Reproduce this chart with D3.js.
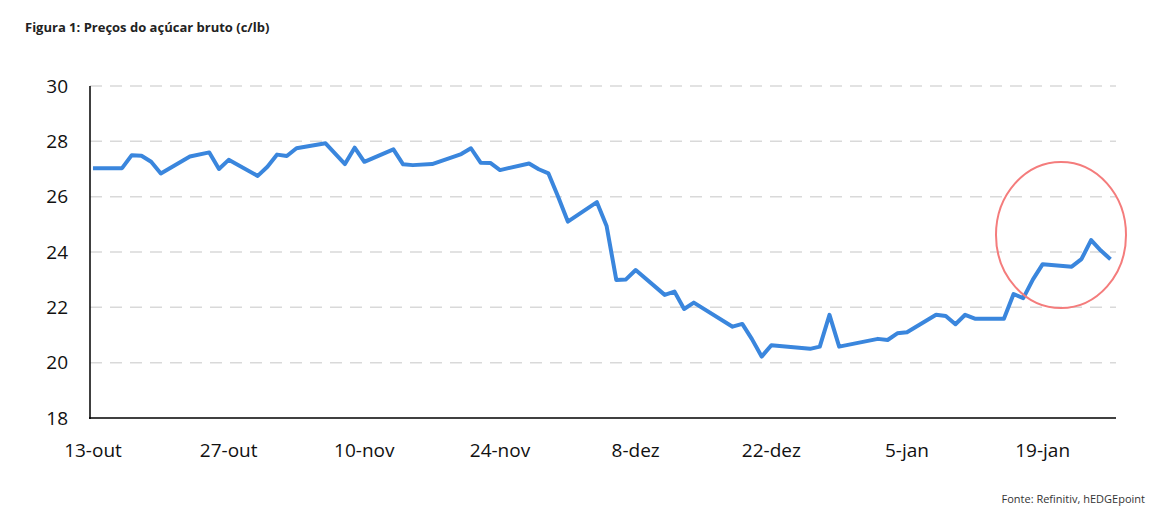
<!DOCTYPE html>
<html><head><meta charset="utf-8">
<script src="https://cdn.jsdelivr.net/npm/d3@7"></script>
<style>body{margin:0;background:#fff;font-family:"Open Sans",sans-serif;}</style>
</head><body>
<script>
// days after 13-out, and raw sugar price (c/lb)
const dayOffsets = [0,3,4,5,6,7,10,12,13,14,17,18,19,20,21,24,26,27,28,31,32,33,35,38,39,40,41,42,45,46,47,48,49,52,53,54,55,56,59,60,61,62,66,67,68,69,70,74,75,76,77,81,82,83,84,87,88,89,90,91,94,95,96,97,98,101,102,103,104,105];
const prices = [27.03,27.03,27.5,27.48,27.26,26.84,27.45,27.6,27.0,27.33,26.75,27.08,27.52,27.47,27.75,27.93,27.18,27.77,27.26,27.71,27.17,27.14,27.18,27.54,27.75,27.23,27.22,26.96,27.2,26.99,26.84,26.0,25.1,25.8,24.94,22.99,23.01,23.35,22.45,22.57,21.94,22.17,21.3,21.4,20.85,20.22,20.63,20.5,20.58,21.73,20.58,20.86,20.82,21.06,21.1,21.73,21.69,21.39,21.73,21.59,21.59,22.48,22.33,23.01,23.56,23.47,23.74,24.43,24.05,23.74];
const tickDays = [0,14,28,42,56,70,84,98];
const tickLabels = ["13-out","27-out","10-nov","24-nov","8-dez","22-dez","5-jan","19-jan"];
const yTicks = [18,20,22,24,26,28,30];

const W = 1166, H = 518;
const svg = d3.select("body").append("svg").attr("width", W).attr("height", H);

const x = d3.scaleLinear().domain([0, 105]).range([93, 1110.5]);
const y = d3.scaleLinear().domain([18, 30]).range([418, 86]);

svg.append("text").attr("x", 25).attr("y", 32).attr("font-size", 13).attr("font-weight", 700)
  .attr("fill", "#222").text("Figura 1: Preços do açúcar bruto (c/lb)");

// gridlines
svg.selectAll(".grid").data(yTicks.slice(1)).join("line")
  .attr("x1", 90).attr("x2", 1116).attr("y1", d => y(d)).attr("y2", d => y(d))
  .attr("stroke", "#d9d9d9").attr("stroke-width", 1.5).attr("stroke-dasharray", "12,8");

svg.selectAll(".yl").data(yTicks).join("text")
  .attr("x", 68).attr("y", d => y(d)).attr("dy", "0.35em").attr("text-anchor", "end")
  .attr("font-size", 19).attr("fill", "#111").text(d => d);

svg.selectAll(".xl").data(tickDays).join("text")
  .attr("x", d => x(d)).attr("y", 457).attr("text-anchor", "middle")
  .attr("font-size", 19).attr("fill", "#111").text((d, i) => tickLabels[i]);

svg.append("line").attr("x1", 90).attr("x2", 90).attr("y1", 86).attr("y2", 419).attr("stroke", "#000").attr("stroke-width", 1.5);
svg.append("line").attr("x1", 89).attr("x2", 1116).attr("y1", 418).attr("y2", 418).attr("stroke", "#000").attr("stroke-width", 1.5);

const pts = dayOffsets.map((d, i) => [d, prices[i]]);
svg.append("path").datum(pts)
  .attr("d", d3.line().x(d => x(d[0])).y(d => y(d[1])))
  .attr("fill", "none").attr("stroke", "#3a86dd").attr("stroke-width", 4).attr("stroke-linejoin", "round");

svg.append("ellipse").attr("cx", 1061).attr("cy", 235).attr("rx", 65).attr("ry", 73)
  .attr("fill", "none").attr("stroke", "#f47c7c").attr("stroke-width", 2);

svg.append("text").attr("x", 1145).attr("y", 503).attr("text-anchor", "end")
  .attr("font-size", 11).attr("fill", "#333").text("Fonte: Refinitiv, hEDGEpoint");
</script>
</body></html>
